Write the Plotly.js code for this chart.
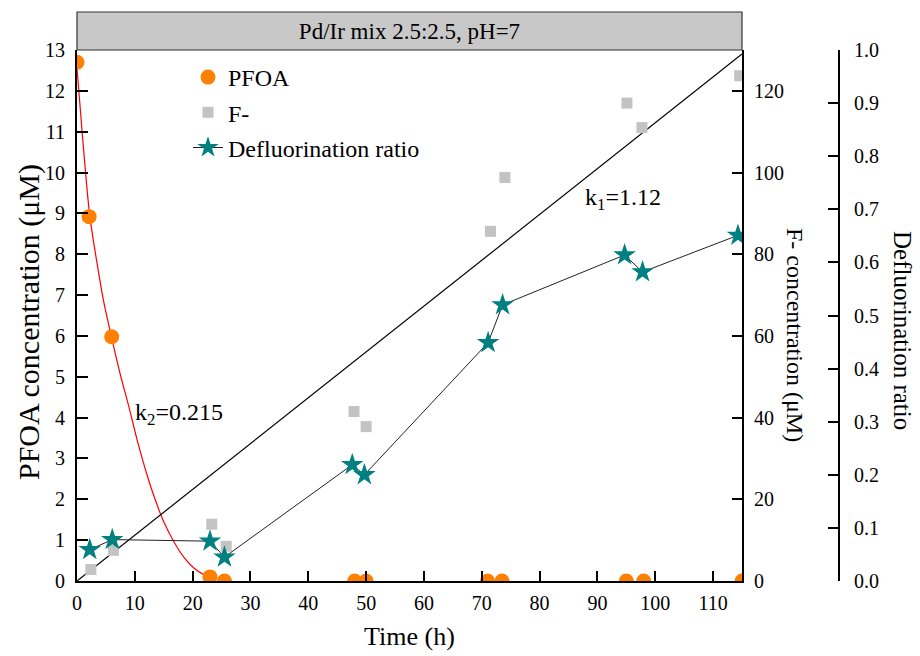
<!DOCTYPE html>
<html>
<head>
<meta charset="utf-8">
<script src="https://cdn.plot.ly/plotly-3.0.1.min.js"></script>
<style>
html,body{margin:0;padding:0;background:#fff;}
#chart{width:920px;height:656px;}
</style>
</head>
<body>
<div id="chart"></div>
<script>
// ---- data ----
const timePFOA = [0, 2.1, 6.0, 23.0, 25.5, 48, 50, 71, 73.5, 95, 98, 115];
const pfoa     = [12.7, 8.92, 5.98, 0.1, 0.0, 0.0, 0.0, 0.0, 0.0, 0.0, 0.0, 0.0];

const timeF    = [2.4, 6.3, 23.3, 25.8, 47.9, 50.0, 71.5, 74.0, 95.1, 97.7, 114.6];
const fluoride = [2.8, 7.5, 13.9, 8.5, 41.5, 37.8, 85.6, 98.8, 117.0, 111.0, 123.7];

const timeRatio = [2.2, 6.1, 23.0, 25.5, 47.6, 49.7, 71.1, 73.6, 94.7, 97.8, 114.3];
const ratio     = [0.059, 0.078, 0.075, 0.045, 0.219, 0.200, 0.449, 0.520, 0.614, 0.582, 0.651];

// red decay fit curve
const decayT = [0, 1, 2.2, 3.5, 4.6, 6.0, 7.5, 9.0, 10.5, 12.0, 13.5, 15.0, 16.8, 18.5, 20.2, 22.0, 23.1];
const decayC = [12.55, 10.8, 8.95, 7.75, 6.85, 5.95, 5.05, 4.25, 3.4, 2.65, 2.0, 1.45, 0.95, 0.58, 0.32, 0.15, 0.1];

// black linear fit line for F-
const fitT = [0, 115];
const fitF = [0, 129];

const titleText = 'Pd/Ir mix 2.5:2.5, pH=7';
const xTicks = [0, 10, 20, 30, 40, 50, 60, 70, 80, 90, 100, 110];
const yTicks = [0,1,2,3,4,5,6,7,8,9,10,11,12,13];
const y2Ticks = [0, 20, 40, 60, 80, 100, 120];
const y3Ticks = [0, 0.1, 0.2, 0.3, 0.4, 0.5, 0.6, 0.7, 0.8, 0.9, 1.0];

// ---- figure ----
const FONT = 'Liberation Serif, Times New Roman, serif';
const W = 920, H = 656;
const mL = 77, mR = 30, mT = 50, mB = 75;
const plotW = W - mL - mR;
const xDomEnd = (742 - mL) / plotW;
const ax3Pos = (839 - mL) / plotW;
const plotH = H - mT - mB;

const traces = [
  {x: decayT, y: decayC, mode: 'lines', line: {color: '#ff0000', width: 1.2, shape: 'spline', smoothing: 0.8},
   showlegend: false, hoverinfo: 'skip', xaxis: 'x', yaxis: 'y'},
  {x: fitT, y: fitF, mode: 'lines', line: {color: '#000000', width: 1.2},
   showlegend: false, hoverinfo: 'skip', xaxis: 'x', yaxis: 'y2'},
  {x: timePFOA, y: pfoa, name: 'PFOA', mode: 'markers', legendgroup: 'a',
   marker: {color: '#ff8000', size: 15, symbol: 'circle'}, xaxis: 'x', yaxis: 'y'},
  {x: timeF, y: fluoride, name: 'F-', mode: 'markers', legendgroup: 'b',
   marker: {color: '#c3c3c3', size: 11, symbol: 'square'}, xaxis: 'x', yaxis: 'y2'},
  {x: timeRatio, y: ratio, name: 'Defluorination ratio', mode: 'lines+markers', legendgroup: 'c',
   line: {color: '#222222', width: 1},
   marker: {color: '#008080', size: 17, symbol: 'star'}, xaxis: 'x', yaxis: 'y3'}
];

const tickFont = {family: FONT, size: 20, color: '#000'};
const layout = {
  width: W, height: H,
  margin: {l: mL, r: mR, t: mT, b: mB, pad: 0},
  paper_bgcolor: '#fff', plot_bgcolor: '#fff',
  font: {family: FONT, color: '#000'},
  title: {text: titleText, font: {family: FONT, size: 23, color: '#000'},
          x: (mL + xDomEnd * plotW / 2) / W, xanchor: 'center', xref: 'container',
          y: 1 - 31 / H, yanchor: 'middle', yref: 'container'},
  xaxis: {domain: [0, xDomEnd], range: [0, 115], tickvals: xTicks, ticks: 'inside', ticklen: 10, tickwidth: 2,
          tickcolor: '#000', showline: true, linewidth: 2, linecolor: '#000', showgrid: false, zeroline: false,
          tickfont: tickFont, ticklabelstandoff: 3,
          title: {text: 'Time (h)', font: {family: FONT, size: 26, color: '#000'}, standoff: 14}},
  yaxis: {range: [0, 13], tickvals: yTicks, ticks: 'inside', ticklen: 11, tickwidth: 2, tickcolor: '#000',
          showline: true, linewidth: 2, linecolor: '#000', showgrid: false, zeroline: false,
          tickfont: tickFont, ticklabelstandoff: 6},
  yaxis2: {overlaying: 'y', side: 'right', anchor: 'x', range: [0, 130], tickvals: y2Ticks, ticks: 'inside',
           ticklen: 10, tickwidth: 2, tickcolor: '#000', showline: true, linewidth: 2, linecolor: '#000',
           showgrid: false, zeroline: false, tickfont: tickFont, ticklabelstandoff: 6},
  yaxis3: {overlaying: 'y', side: 'right', anchor: 'free', position: ax3Pos, range: [0, 1.0],
           tickvals: y3Ticks, tickformat: '.1f', ticks: 'inside', ticklen: 10, tickwidth: 2, tickcolor: '#000',
           showline: true, linewidth: 2, linecolor: '#000', showgrid: false, zeroline: false,
           tickfont: tickFont, ticklabelstandoff: 10},
  legend: {x: (188 - mL) / plotW, y: 1 - (55 - mT) / plotH, xanchor: 'left', yanchor: 'top',
           bgcolor: 'rgba(0,0,0,0)', borderwidth: 0, tracegroupgap: 1,
           font: {family: FONT, size: 24, color: '#000'}},
  shapes: [
    {type: 'rect', xref: 'paper', yref: 'paper', x0: 0, x1: xDomEnd, y0: 1, y1: 1 + 38 / plotH,
     fillcolor: '#c8c8c8', line: {color: '#333', width: 1.2}, layer: 'below'}
  ],
  annotations: [
    {text: 'PFOA concentration (μM)', xref: 'paper', yref: 'paper', x: (29 - mL) / plotW, y: (581 - 322) / plotH,
     textangle: -90, showarrow: false, font: {family: FONT, size: 30, color: '#000'}, xanchor: 'center', yanchor: 'middle'},
    {text: 'F- concentration (μM)', xref: 'paper', yref: 'paper', x: (795 - mL) / plotW, y: (581 - 335) / plotH,
     textangle: 90, showarrow: false, font: {family: FONT, size: 24, color: '#000'}, xanchor: 'center', yanchor: 'middle'},
    {text: 'Defluorination ratio', xref: 'paper', yref: 'paper', x: (903 - mL) / plotW, y: (581 - 330) / plotH,
     textangle: 90, showarrow: false, font: {family: FONT, size: 25, color: '#000'}, xanchor: 'center', yanchor: 'middle'},
    {text: 'k<sub>1</sub>=1.12', xref: 'x', yref: 'y', x: 94.5, y: 9.35, showarrow: false,
     font: {family: FONT, size: 24, color: '#000'}},
    {text: 'k<sub>2</sub>=0.215', xref: 'x', yref: 'y', x: 17.7, y: 4.1, showarrow: false,
     font: {family: FONT, size: 24, color: '#000'}}
  ]
};

Plotly.newPlot('chart', traces, layout, {displayModeBar: false, staticPlot: true});
</script>
</body>
</html>
